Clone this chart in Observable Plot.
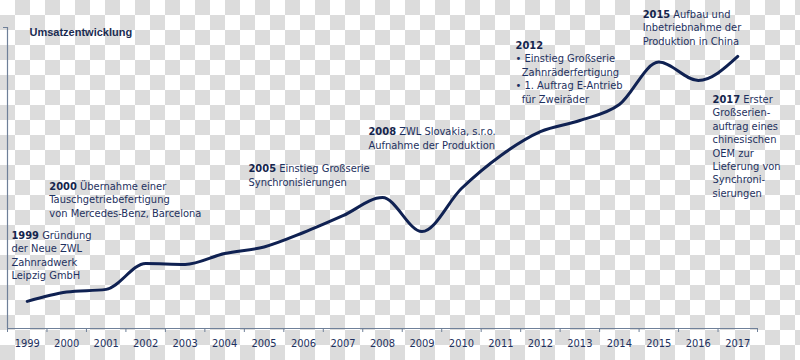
<!DOCTYPE html>
<html>
<head>
<meta charset="utf-8">
<script src="https://cdn.jsdelivr.net/npm/d3@7"></script>
<script src="https://cdn.jsdelivr.net/npm/@observablehq/plot@0.6"></script>
<style>
  html, body { margin: 0; padding: 0; }
  body {
    width: 800px; height: 360px; overflow: hidden;
    background: repeating-conic-gradient(#dcdcdc 0 25%, #ffffff 0 50%) 0 0 / 30px 30px;
  }
</style>
</head>
<body>
<div id="chart"></div>
<script>
// ---- data ----
const years = [1999, 2000, 2001, 2002, 2003, 2004, 2005, 2006, 2007, 2008, 2009, 2010, 2011, 2012, 2013, 2014, 2015, 2016, 2017];
const umsatz = [9.0, 12.1, 13.0, 21.6, 21.3, 24.9, 27.1, 31.9, 37.5, 43.5, 32.2, 46.5, 57.5, 65.4, 69.1, 74.4, 88.5, 82.4, 90.4];
const tickLabels = ["1999", "2000", "2001", "2002", "2003", "2004", "2005", "2006", "2007", "2008", "2009", "2010", "2011", "2012", "2013", "2014", "2015", "2016", "2017"];
const title = "Umsatzentwicklung";
const annoYear = [1998.6, 1999.56, 2004.605, 2007.645, 2011.37, 2014.59, 2016.36];
const annoLevel = [32.9, 49.2, 55.1, 67.4, 96.0, 106.3, 78.1];
const annoText = [
  "1999 Gründung\nder Neue ZWL\nZahnradwerk\nLeipzig GmbH",
  "2000 Übernahme einer\nTauschgetriebefertigung\nvon Mercedes-Benz, Barcelona",
  "2005 Einstieg Großserie\nSynchronisierungen",
  "2008 ZWL Slovakia, s.r.o.\nAufnahme der Produktion",
  "2012\n• Einstieg Großserie\n\u00A0\u00A0Zahnräderfertigung\n• 1. Auftrag E-Antrieb\n\u00A0\u00A0für Zweiräder",
  "2015 Aufbau und\nInbetriebnahme der\nProduktion in China",
  "2017 Erster\nGroßserien-\nauftrag eines\nchinesischen\nOEM zur\nLieferung von\nSynchroni-\nsierungen"
];

const series = years.map((y, i) => ({year: y, value: umsatz[i]}));
const annotations = annoText.map((t, i) => ({x: annoYear[i], y: annoLevel[i], text: t}));
const tickBounds = years.map(y => y - 0.5).concat([years[years.length - 1] + 0.5]);

const axisColor = "#6f8099";
const textColor = "#1e3160";
const lineColor = "#0f2152";

const chart = Plot.plot({
  width: 800,
  height: 360,
  marginLeft: 7,
  marginRight: 43,
  marginTop: 27,
  marginBottom: 32,
  style: {background: "transparent", fontFamily: "'DejaVu Sans Condensed', 'DejaVu Sans', sans-serif", fontSize: "11px", color: textColor, overflow: "visible"},
  x: {domain: [1998.5, 2017.5]},
  y: {domain: [0, 100]},
  marks: [
    Plot.ruleY([0], {stroke: axisColor, strokeWidth: 1.2}),
    Plot.ruleX([1998.5], {y1: 0, y2: 100, stroke: axisColor, strokeWidth: 1.2}),
    Plot.axisY({ticks: [100], tickSize: 4, tickFormat: () => "", stroke: axisColor}),
    Plot.axisX({ticks: tickBounds, tickSize: 4, tickFormat: () => "", stroke: axisColor}),
    Plot.axisX({ticks: years, tickSize: 0, tickPadding: 11, tickFormat: (d, i) => tickLabels[years.indexOf(d)], fill: textColor, fontSize: 11}),
    Plot.line(series, {x: "year", y: "value", curve: "monotone-x", stroke: lineColor, strokeWidth: 3}),
    Plot.text(annotations, {x: "x", y: "y", text: "text", textAnchor: "start", lineAnchor: "top", lineHeight: 1.22, fill: textColor, fontSize: 11}),
    Plot.text([title], {frameAnchor: "top-left", dx: 22, dy: 1, lineAnchor: "top", textAnchor: "start", fill: "#1b2c52", fontSize: 11, fontWeight: "bold", fontFamily: "'Liberation Sans', Arial, sans-serif"})
  ]
});

document.getElementById("chart").appendChild(chart);

// bold year prefixes in annotations
const ns = "http://www.w3.org/2000/svg";
chart.querySelectorAll('g[aria-label="text"] text').forEach(t => {
  const first = t.querySelector("tspan") || t;
  const m = first.textContent.match(/^(\d{4})(.*)$/);
  if (m) {
    first.textContent = "";
    const b = document.createElementNS(ns, "tspan");
    b.setAttribute("font-weight", "bold");
    b.setAttribute("fill", "#15254d");
    b.textContent = m[1];
    first.appendChild(b);
    first.appendChild(document.createTextNode(m[2]));
  }
});
</script>
</body>
</html>
